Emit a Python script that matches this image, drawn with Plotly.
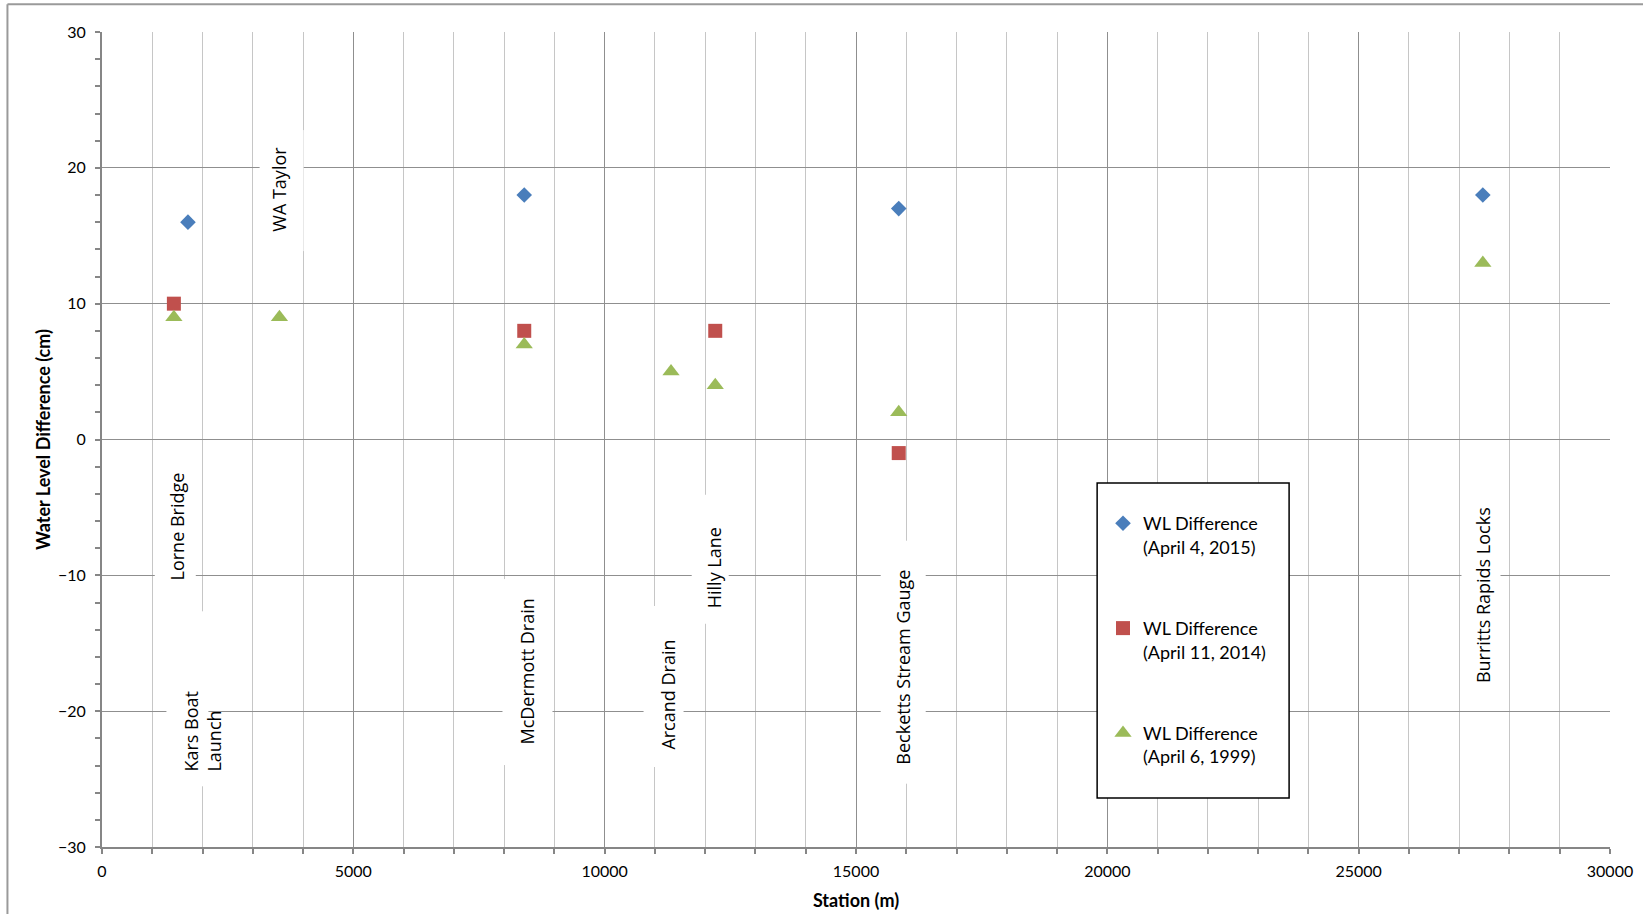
import plotly.graph_objects as go

# ---------------- data ----------------
st_2015 = [1710, 8400, 15850, 27470]
wl_2015 = [16, 18, 17, 18]

st_2014 = [1430, 8400, 12200, 15850]
wl_2014 = [10, 8, 8, -1]

st_1999 = [1430, 3530, 8400, 11320, 12200, 15850, 27470]
wl_1999 = [9, 9, 7, 5, 4, 2, 13]

series_names = [
    "WL Difference<br>(April 4, 2015)",
    "WL Difference<br>(April 11, 2014)",
    "WL Difference<br>(April 6, 1999)",
]

station_labels = [
    "WA Taylor",
    "Lorne Bridge",
    "Kars Boat<br>Launch",
    "McDermott Drain",
    "Arcand Drain",
    "Hilly Lane",
    "Becketts Stream Gauge",
    "Burritts Rapids Locks",
]

x_title = "Station (m)"
y_title = "Water Level Difference (cm)"

# ---------------- label placement (layout only) ----------------
# label -> white box (x, y, length along text in px, thickness in px), text centre (x, y)
label_box = {
    "WA Taylor": (3568, 18.35, 120, 43),
    "Lorne Bridge": (1460, -6.45, 135, 40),
    "Kars Boat<br>Launch": (1708, -19.1, 174, 41),
    "McDermott Drain": (8470, -17.1, 185, 49),
    "Arcand Drain": (11176, -18.2, 160, 39),
    "Hilly Lane": (12100, -8.8, 128, 36),
    "Becketts Stream Gauge": (15939, -16.38, 242, 44),
    "Burritts Rapids Locks": (27434, -11.45, 210, 38),
}
label_text_pos = {
    "WA Taylor": (3530, 18.42),
    "Lorne Bridge": (1490, -6.41),
    "Kars Boat<br>Launch": (1981, -21.46),
    "McDermott Drain": (8450, -17.1),
    "Arcand Drain": (11255, -18.8),
    "Hilly Lane": (12180, -9.46),
    "Becketts Stream Gauge": (15940, -16.78),
    "Burritts Rapids Locks": (27475, -11.45),
}

FONT_TICK = dict(family="Lato", size=16, color="black")
FONT_TITLE = dict(family="Lato", size=18, color="black")
FONT_LABEL = dict(family="Open Sans", size=18, color="black")

fig = go.Figure()

styles = [
    dict(symbol="diamond", color="#4a7ebb", size=12),
    dict(symbol="square", color="#c0504d", size=14),
    dict(symbol="triangle-up", color="#9bbb59", size=15),
]
for i, (xs, ys) in enumerate([(st_2015, wl_2015), (st_2014, wl_2014), (st_1999, wl_1999)]):
    s = styles[i]
    fig.add_trace(go.Scatter(
        x=xs, y=ys, mode="markers", name=series_names[i],
        legendgroup=f"g{i}",
        marker=dict(symbol=s["symbol"], color=s["color"], size=s["size"], line=dict(width=0)),
    ))

annotations = []
for lab in station_labels:
    bx, by, w, h = label_box[lab]
    annotations.append(dict(
        x=bx, y=by, xref="x", yref="y", text=" ", showarrow=False, textangle=-90,
        font=FONT_LABEL, bgcolor="white", width=w, height=h, borderpad=0,
        xanchor="center", yanchor="middle"))
for lab in station_labels:
    tx, ty = label_text_pos[lab]
    annotations.append(dict(
        x=tx, y=ty, xref="x", yref="y", text=lab, showarrow=False, textangle=-90,
        font=FONT_LABEL, align="left", borderpad=0,
        xanchor="center", yanchor="middle"))

shapes = [
    # legend frame
    dict(type="rect", xref="paper", yref="paper", x0=0.6599, x1=0.7872, y0=0.0601, y1=0.4465,
         line=dict(color="black", width=1.5), fillcolor="white", layer="above"),
    # outer chart border (left and top)
    dict(type="line", xref="paper", yref="paper", x0=-0.0627, x1=-0.0627, y0=-0.2, y1=1.034,
         line=dict(color="#9a9a9a", width=2), layer="above"),
    dict(type="line", xref="paper", yref="paper", x0=-0.0627, x1=1.2, y0=1.034, y1=1.034,
         line=dict(color="#9a9a9a", width=2), layer="above"),
]

MAJOR = "#8f8f8f"
MINOR = "#c6c6c6"
AXIS = "#868686"

fig.update_layout(
    width=1643, height=914,
    margin=dict(l=102, r=33, t=32, b=67),
    paper_bgcolor="white", plot_bgcolor="white",
    showlegend=True,
    legend=dict(
        x=0.6638, y=0.4195, xanchor="left", yanchor="top",
        bgcolor="rgba(0,0,0,0)", borderwidth=0,
        font=dict(family="Lato", size=18, color="black"),
        valign="top", tracegroupgap=55, traceorder="grouped",
    ),
    annotations=annotations,
    shapes=shapes,
    xaxis=dict(
        range=[0, 30000], tick0=0, dtick=5000, tickformat="d",
        showgrid=True, gridcolor=MAJOR, gridwidth=1.3,
        showline=True, linecolor=AXIS, linewidth=2,
        ticks="outside", ticklen=5, tickcolor=AXIS, tickwidth=1.5,
        minor=dict(dtick=1000, tick0=0, showgrid=True, gridcolor=MINOR, gridwidth=1.3,
                   ticks="outside", ticklen=5, tickcolor=AXIS, tickwidth=1.5),
        zeroline=False, tickfont=FONT_TICK, automargin=False, ticklabelstandoff=4,
        title=dict(text="<b>" + x_title + "</b>", font=FONT_TITLE, standoff=15),
    ),
    yaxis=dict(
        range=[-30, 30], tick0=0, dtick=10,
        showgrid=True, gridcolor=MAJOR, gridwidth=1.3,
        showline=True, linecolor=AXIS, linewidth=2,
        ticks="outside", ticklen=5, tickcolor=AXIS, tickwidth=1.5,
        minor=dict(dtick=2, tick0=0, showgrid=False,
                   ticks="outside", ticklen=5, tickcolor=AXIS, tickwidth=1.5),
        zeroline=False, tickfont=FONT_TICK, automargin=False, ticklabelstandoff=6,
        title=dict(text="<b>" + y_title + "</b>", font=FONT_TITLE, standoff=3),
    ),
)

fig.write_html(
    "out.html",
    config={"displayModeBar": False},
    post_script="document.body.style.margin='0';document.body.style.overflow='hidden';",
)
